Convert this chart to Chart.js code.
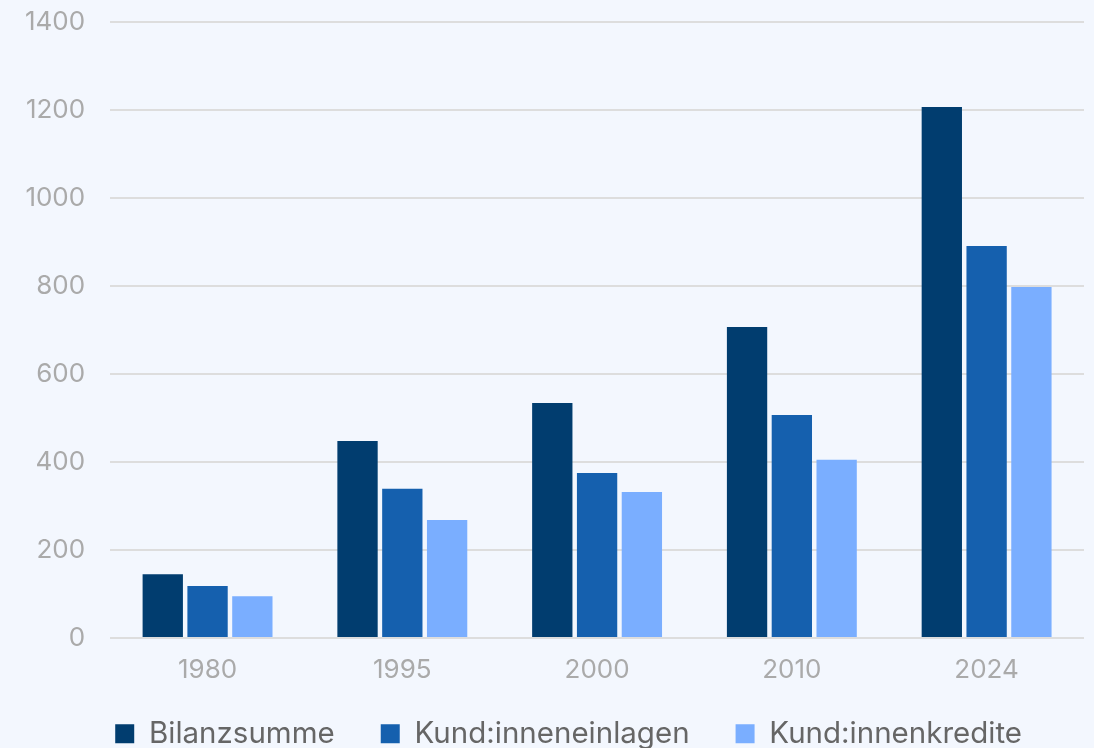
<!DOCTYPE html>
<html>
<head>
<meta charset="utf-8">
<script src="https://cdn.jsdelivr.net/npm/chart.js@4"></script>
<style>
  html, body { margin: 0; padding: 0; background: #f3f7fe; }
  #wrap { width: 1094px; height: 748px; }
</style>
</head>
<body>
<div id="wrap"><canvas id="myChart"></canvas></div>
<script>
const jahre = ["1980", "1995", "2000", "2010", "2024"];
const bilanzsumme = [145, 448, 534, 707, 1207];
const einlagen = [118, 339, 375, 507, 891];
const kredite = [95, 268, 332, 405, 798];

const fuente = "Inter";

// corre la leyenda un poco a la izquierda y arriba
const moverLeyenda = {
  id: "moverLeyenda",
  afterLayout(chart) {
    chart.legend.left -= 16;
    chart.legend.right -= 16;
    chart.legend.top -= 14;
  },
};

const config = {
  type: "bar",
  data: {
    labels: jahre,
    datasets: [
      { label: "Bilanzsumme", data: bilanzsumme, backgroundColor: "#013d6f" },
      { label: "Kund:inneneinlagen", data: einlagen, backgroundColor: "#1560ae" },
      { label: "Kund:innenkredite", data: kredite, backgroundColor: "#7aaeff" },
    ],
  },
  options: {
    responsive: true,
    maintainAspectRatio: false,
    animation: false,
    layout: { padding: { top: 0, right: 10, left: 0, bottom: 0 } },
    datasets: { bar: { categoryPercentage: 0.69, barPercentage: 0.9 } },
    scales: {
      x: {
        grid: { display: false, drawTicks: false },
        border: { display: false },
        ticks: { color: "#aaaaaa", font: { family: fuente, size: 26 }, padding: 17 },
        afterFit: (scale) => {
          scale.height = 49;
        },
      },
      y: {
        min: 0,
        max: 1400,
        ticks: {
          stepSize: 200,
          color: "#aaaaaa",
          font: { family: fuente, size: 26 },
          padding: 25,
          callback: (v) => String(v), // sin separador de miles
        },
        grid: { color: "#dddddd", lineWidth: 2, drawTicks: false },
        border: { display: false },
        // el padding de los ticks empuja el area hacia abajo, lo recortamos
        afterFit: (scale) => {
          scale.paddingTop = 22;
          scale.paddingBottom = 0;
        },
      },
    },
    plugins: {
      legend: {
        position: "bottom",
        align: "end",
        maxHeight: 61,
        labels: {
          color: "#666666",
          font: { family: fuente, size: 29.5 },
          boxWidth: 19,
          boxHeight: 19,
          padding: 46,
        },
      },
      tooltip: { enabled: false },
    },
  },
  plugins: [moverLeyenda],
};

new Chart(document.getElementById("myChart"), config);
</script>
</body>
</html>
